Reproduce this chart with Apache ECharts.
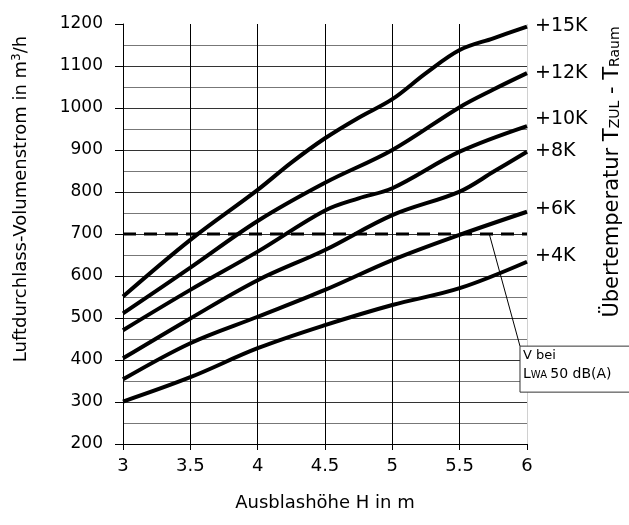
<!DOCTYPE html>
<html><head><meta charset="utf-8">
<script src="https://cdn.jsdelivr.net/npm/echarts@6/dist/echarts.min.js"></script>
<style>html,body{margin:0;padding:0;background:#fff}#c{width:629px;height:525px}</style>
</head><body><div id="c"></div>
<script>
const FONT = '"DejaVu Sans", "Open Sans", sans-serif';
const seriesNames = ['+15K', '+12K', '+10K', '+8K', '+6K', '+4K'];
const xK15 = [3, 3.5, 4, 4.25, 4.5, 4.75, 5, 5.25, 5.5, 5.75, 6];
const yK15 = [551, 686, 805, 870, 928, 977, 1021, 1083, 1138, 1166, 1194];
const xK12 = [3, 3.5, 4, 4.5, 5, 5.5, 5.75, 6];
const yK12 = [511, 620, 731, 822, 900, 1002, 1044, 1083];
const xK10 = [3, 3.5, 4, 4.5, 4.75, 5, 5.5, 6];
const yK10 = [471, 567, 658, 756, 785, 809, 896, 957];
const xK8 = [3, 3.5, 4, 4.5, 5, 5.5, 5.75, 6];
const yK8 = [404, 499, 590, 662, 745, 801, 848, 896];
const xK6 = [3, 3.5, 4, 4.5, 5, 5.5, 6];
const yK6 = [354, 440, 503, 567, 638, 698, 753];
const xK4 = [3, 3.5, 4, 4.5, 5, 5.5, 6];
const yK4 = [301, 359, 428, 483, 531, 571, 634];
const limitX = [3, 6];
const limitY = [700, 700];
const leaderX = [5.72, 5.948];
const leaderY = [700, 433];
const xTicks = [3, 3.5, 4, 4.5, 5, 5.5, 6];
const yTicks = [200, 300, 400, 500, 600, 700, 800, 900, 1000, 1100, 1200];

const xs = [xK15, xK12, xK10, xK8, xK6, xK4];
const ys = [yK15, yK12, yK10, yK8, yK6, yK4];
const labelOffsets = [[0, 0], [0, 0], [0, -7], [0, -1], [0, -3], [0, -6]];

const zip = (a, b) => a.map((v, i) => [v, b[i]]);

const chart = echarts.init(document.getElementById('c'), null, {renderer: 'canvas'});
const series = seriesNames.map((n, i) => ({
  name: n, type: 'line', data: zip(xs[i], ys[i]), smooth: 0.35, symbol: 'none',
  lineStyle: {color: '#000', width: 4}, z: 5,
  endLabel: {show: true, formatter: n, fontFamily: FONT, fontSize: 19, color: '#000',
    distance: 8, offset: labelOffsets[i]}
}));
series.push({type: 'line', data: zip(limitX, limitY), symbol: 'none',
  lineStyle: {color: '#000', width: 3, type: [13, 8]}, z: 4});
series.push({type: 'line', data: zip(leaderX, leaderY), symbol: 'none', clip: false,
  lineStyle: {color: '#000', width: 1}, z: 4});

chart.setOption({
  animation: false,
  grid: {left: 123, right: 102, top: 24, bottom: 81},
  xAxis: {
    type: 'value', min: 3, max: 6, interval: 0.5,
    name: 'Ausblashöhe H in m', nameLocation: 'middle', nameGap: 50,
    nameTextStyle: {fontFamily: FONT, fontSize: 18, color: '#000'},
    axisLine: {lineStyle: {color: '#000', width: 1}},
    axisTick: {show: true, length: 6, lineStyle: {color: '#000'}},
    axisLabel: {fontFamily: FONT, fontSize: 18, color: '#000', margin: 13,
      formatter: v => String(v)},
    splitLine: {show: true, lineStyle: {color: ['#000', '#000', '#000', '#000', '#000', '#000', '#d0d0d0'], width: 1}}
  },
  yAxis: {
    type: 'value', min: 200, max: 1200, interval: 100,
    axisLine: {show: true, lineStyle: {color: '#000', width: 1}},
    axisTick: {show: true, length: 8, lineStyle: {color: '#000'}},
    axisLabel: {fontFamily: FONT, fontSize: 17, color: '#000', margin: 20,
      formatter: v => String(v)},
    splitLine: {show: true, lineStyle: {color: ['#000', '#333', '#333', '#333', '#333', '#333', '#333', '#333', '#333', '#333', 'rgba(0,0,0,0)'], width: 1}},
    minorTick: {show: false, splitNumber: 2},
    minorSplitLine: {show: true, lineStyle: {color: '#777', width: 1}}
  },
  series: series
});

const p = chart.convertToPixel({gridIndex: 0}, [leaderX[1], leaderY[1]]);
chart.setOption({
  graphic: [
    {type: 'rect', shape: {x: p[0], y: p[1], width: 130, height: 46},
      style: {fill: '#fff', stroke: '#333', lineWidth: 1}, z: 10},
    {type: 'text', x: p[0] + 3, y: p[1] + 3, z: 11,
      style: {text: 'V bei', font: '13px ' + FONT, fill: '#000'}},
    {type: 'text', x: p[0] + 3, y: p[1] + 21, z: 11,
      style: {text: '{a|L}{b|WA} {a|50 dB(A)}', fill: '#000',
        rich: {a: {fontFamily: FONT, fontSize: 14, color: '#000'},
               b: {fontFamily: FONT, fontSize: 10, color: '#000', padding: [3, 0, 0, 0]}}}},
    {type: 'text', x: 21, y: 199, rotation: Math.PI / 2, z: 11,
      style: {text: '{a|Luftdurchlass-Volumenstrom in m}{s|3}{a|/h}', align: 'center', verticalAlign: 'middle',
        rich: {a: {fontFamily: FONT, fontSize: 18, color: '#000'},
               s: {fontFamily: FONT, fontSize: 12, color: '#000', padding: [0, 0, 8, 0]}}}},
    {type: 'text', x: 613, y: 172, rotation: Math.PI / 2, z: 11,
      style: {text: '{a|Übertemperatur T}{b|ZUL}{a| - T}{b|Raum}', align: 'center', verticalAlign: 'middle',
        rich: {a: {fontFamily: FONT, fontSize: 21, color: '#000'},
               b: {fontFamily: FONT, fontSize: 14, color: '#000', padding: [5, 0, 0, 0]}}}}
  ]
});
</script></body></html>
